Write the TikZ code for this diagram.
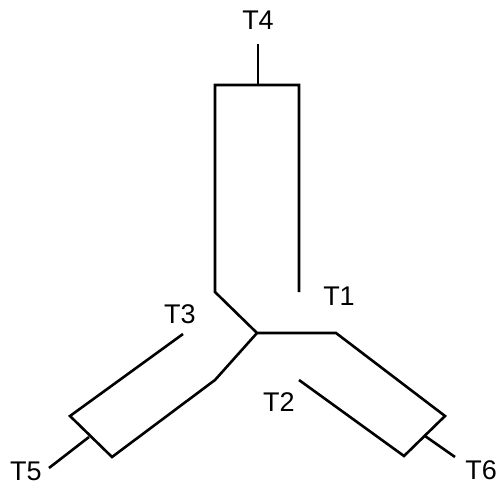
\documentclass[tikz,border=0pt]{standalone}
\usepackage{fontspec}
\setmainfont{Liberation Sans}
\begin{document}
\begin{tikzpicture}[x=1pt,y=-1pt,
  wire/.style={line width=2.6pt,line join=miter,line cap=butt},
  lbl/.style={inner sep=0pt,font=\fontsize{27}{30}\selectfont}]
\useasboundingbox (0,0) rectangle (500,486);
% junction and outline points
\coordinate (J) at (257,333);
\coordinate (A1) at (299,380);
\coordinate (A2) at (404,456);
\coordinate (A3) at (445,416);
\coordinate (A4) at (336,333);
\coordinate (B1) at (215,292);
\coordinate (B2) at (215,85);
\coordinate (B3) at (299,85);
\coordinate (B4) at (299,292);
\coordinate (C1) at (183,334);
\coordinate (C2) at (70,416);
\coordinate (C3) at (112,457);
\coordinate (C4) at (215,380);
% stubs
\coordinate (S4a) at (258,85);
\coordinate (S4b) at (258,44);
\coordinate (S5a) at (89,437);
\coordinate (S5b) at (49,468);
\coordinate (S6a) at (425,436);
\coordinate (S6b) at (455,457);
\draw[wire] (A1) -- (A2) -- (A3) -- (A4) -- (J) -- (B1) -- (B2) -- (B3) -- (B4);
\draw[wire] (C1) -- (C2) -- (C3) -- (C4) -- (J);
\draw[wire] (S4a) -- (S4b);
\draw[wire] (S5a) -- (S5b);
\draw[wire] (S6a) -- (S6b);
% labels
\node[lbl] (t4) at (258,20) {T4};
\node[lbl] (t1) at (339,296) {T1};
\node[lbl] (t3) at (180,314) {T3};
\node[lbl] (t2) at (279,402) {T2};
\node[lbl] (t5) at (26,471) {T5};
\node[lbl] (t6) at (481,470) {T6};
\end{tikzpicture}
\end{document}
